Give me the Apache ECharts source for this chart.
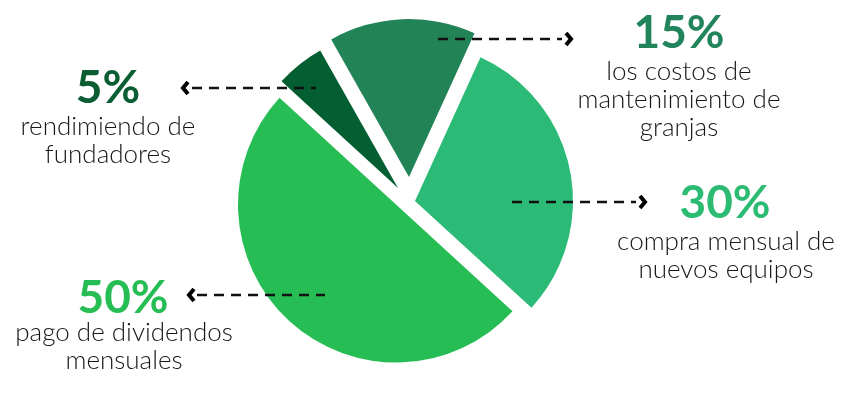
<!DOCTYPE html>
<html>
<head>
<meta charset="utf-8">
<script src="https://cdn.jsdelivr.net/npm/echarts@6/dist/echarts.min.js"></script>
<style>
html,body{margin:0;padding:0;background:#fff;}
#chart{width:850px;height:400px;}
</style>
</head>
<body>
<div id="chart"></div>
<script>
// ---- data ----
const categories = ['rendimiendo de\nfundadores', 'los costos de\nmantenimiento de\ngranjas', 'compra mensual de\nnuevos equipos', 'pago de dividendos\nmensuales'];
const values = [5, 15, 30, 50];
const percentLabels = ['5%', '15%', '30%', '50%'];

// ---- styling / layout ----
const colors = ['#035e31', '#228456', '#2bbb76', '#27bd55'];
const textColors = ['#0b5e33', '#22845a', '#2bbb73', '#27bd55'];
const sliceCenters = [[398, 188], [409, 177], [415, 201], [396, 204.5]];
const radius = 158;
const startAngle = 137.5;

const pctPos = [[108, 88], [679, 33], [725, 203], [123, 298]];
const descPos = [[108, 141], [679, 100], [726, 256], [124, 347]];
const leaders = [
  {x1: 192, x2: 316, y: 88, dir: -1, tip: 183},
  {x1: 438, x2: 562, y: 39, dir: 1, tip: 571},
  {x1: 512, x2: 636, y: 202, dir: 1, tip: 645},
  {x1: 197, x2: 325, y: 295, dir: -1, tip: 189}
];

const chart = echarts.init(document.getElementById('chart'), null, {renderer: 'canvas'});

const series = values.map((v, i) => ({
  type: 'pie',
  silent: true,
  animation: false,
  center: sliceCenters[i],
  radius: [0, radius],
  startAngle: startAngle,
  clockwise: true,
  label: {show: false},
  labelLine: {show: false},
  data: values.map((w, j) => ({
    name: categories[j],
    value: w,
    itemStyle: {color: j === i ? colors[j] : 'rgba(0,0,0,0)'}
  }))
}));

const graphics = [];
values.forEach((v, i) => {
  graphics.push({
    type: 'text', z: 100,
    style: {
      text: percentLabels[i], x: pctPos[i][0], y: pctPos[i][1],
      align: 'center', verticalAlign: 'middle',
      fontFamily: 'Lato', fontWeight: 'bold', fontSize: 46, fill: textColors[i]
    }
  });
  graphics.push({
    type: 'text', z: 100,
    style: {
      text: categories[i], x: descPos[i][0], y: descPos[i][1],
      align: 'center', verticalAlign: 'middle', lineHeight: 28,
      fontFamily: 'Lato', fontWeight: 300, fontSize: 26, fill: '#161616'
    }
  });
  const L = leaders[i];
  graphics.push({
    type: 'line', z: 100,
    shape: {x1: L.x1, y1: L.y, x2: L.x2, y2: L.y},
    style: {stroke: '#111', lineWidth: 2.5, lineDash: [10, 7]}
  });
  const t = L.tip, b = t - L.dir * 5;
  graphics.push({
    type: 'polyline', z: 100,
    shape: {points: [[b, L.y - 6], [t, L.y], [b, L.y + 6]]},
    style: {stroke: '#000', lineWidth: 4, fill: null, lineJoin: 'miter'}
  });
});

chart.setOption({
  backgroundColor: '#ffffff',
  animation: false,
  series: series,
  graphic: graphics
});
</script>
</body>
</html>
